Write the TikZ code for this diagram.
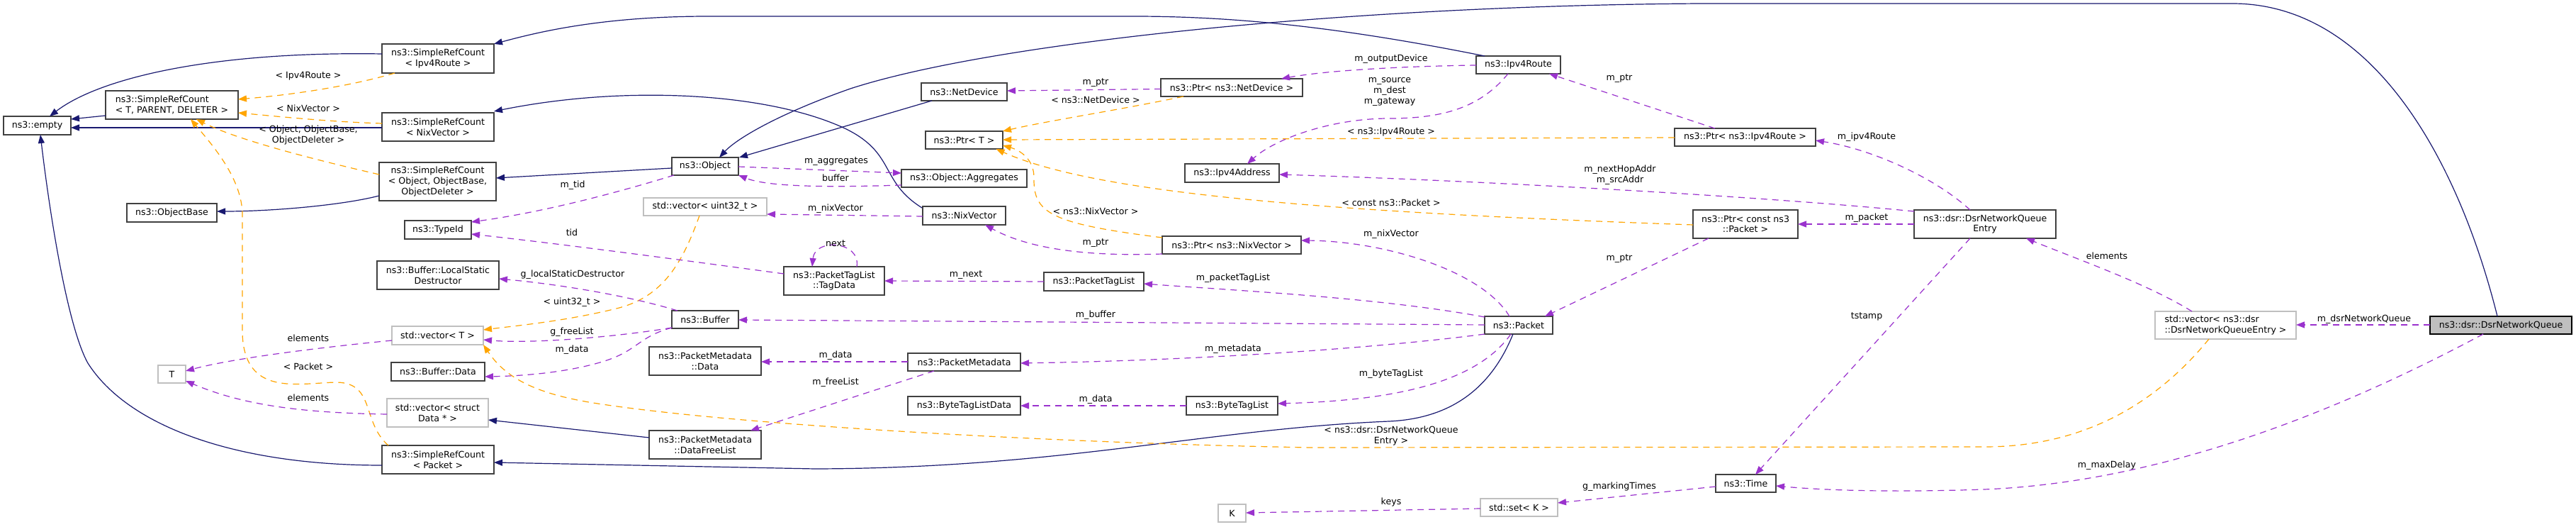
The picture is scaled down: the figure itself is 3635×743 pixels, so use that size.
\documentclass[tikz,border=0pt]{standalone}
\usepackage{fontspec}
\setmainfont{DejaVu Sans}
\usetikzlibrary{arrows.meta,calc}
\definecolor{inhcol}{HTML}{191970}
\definecolor{usecol}{HTML}{9A32CD}
\definecolor{tmplcol}{HTML}{FFA500}
\definecolor{nbord}{HTML}{404040}
\definecolor{sbord}{HTML}{BFBFBF}
\definecolor{tfill}{HTML}{BFBFBF}
\newcommand\dfont{\fontsize{12.6}{14.7}\selectfont}
\begin{document}
\begin{tikzpicture}[x=1pt,y=-1pt,
  nd/.style={draw=nbord, line width=1.3pt, fill=white, inner sep=0pt, align=center, font=\dfont},
  nstd/.style={nd, draw=sbord},
  ntgt/.style={nd, draw=black, fill=tfill},
  lbl/.style={font=\dfont, inner sep=0pt, align=center},
  tip/.style={-{Triangle[length=12pt,width=9pt]}},
  inh/.style={draw=inhcol, line width=1.2pt, tip},
  tmpl/.style={draw=tmplcol, line width=1.2pt, dash pattern=on 9pt off 7pt, tip},
  usel/.style={draw=usecol, line width=1.2pt, dash pattern=on 9pt off 7pt, tip}]
\useasboundingbox (0,0) rectangle (3635,743);
\fill[white] (0,0) rectangle (3635,743);

% ---------------- nodes ----------------
\node[nd, minimum width=95pt, minimum height=26pt] (empty) at (52.5,177) {ns3::empty};
\node[nd, minimum width=187pt, minimum height=40pt, align=left] (srcT) at (242.5,148) {ns3::SimpleRefCount\\< T, PARENT, DELETER >};
\node[nd, minimum width=158pt, minimum height=41pt] (srcIpv4) at (618,82.5) {ns3::SimpleRefCount\\< Ipv4Route >};
\node[nd, minimum width=158pt, minimum height=40pt] (srcNix) at (618,179) {ns3::SimpleRefCount\\< NixVector >};
\node[nd, minimum width=165pt, minimum height=54pt] (srcObj) at (617.5,256) {ns3::SimpleRefCount\\< Object, ObjectBase,\\ObjectDeleter >};
\node[nd, minimum width=127pt, minimum height=26pt] (objbase) at (242.5,300) {ns3::ObjectBase};
\node[nd, minimum width=94pt, minimum height=26pt] (typeid) at (618,324) {ns3::TypeId};
\node[nd, minimum width=172pt, minimum height=40pt] (lsd) at (618,388) {ns3::Buffer::LocalStatic\\Destructor};
\node[nstd, minimum width=129pt, minimum height=26pt] (vecT) at (617.5,473) {std::vector< T >};
\node[nd, minimum width=132pt, minimum height=26pt] (bufdata) at (618,524) {ns3::Buffer::Data};
\node[nstd, minimum width=143pt, minimum height=40pt] (vecData) at (617.5,582) {std::vector< struct\\Data * >};
\node[nd, minimum width=158pt, minimum height=40pt] (srcPacket) at (618,648) {ns3::SimpleRefCount\\< Packet >};
\node[nstd, minimum width=39pt, minimum height=25pt] (T) at (242.5,527.5) {T};
\node[nd, minimum width=94pt, minimum height=25pt] (object) at (995,234.5) {ns3::Object};
\node[nstd, minimum width=174pt, minimum height=25pt] (vecU32) at (995,291.5) {std::vector< uint32\_t >};
\node[nd, minimum width=142pt, minimum height=40pt] (tagdata) at (1177,396) {ns3::PacketTagList\\::TagData};
\node[nd, minimum width=94pt, minimum height=25pt] (buffer) at (995,450.5) {ns3::Buffer};
\node[nd, minimum width=158pt, minimum height=40pt] (pmdata) at (995,509) {ns3::PacketMetadata\\::Data};
\node[nd, minimum width=158pt, minimum height=40pt] (freelist) at (995,627) {ns3::PacketMetadata\\::DataFreeList};
\node[nd, minimum width=121pt, minimum height=25pt] (netdev) at (1360.5,129.5) {ns3::NetDevice};
\node[nd, minimum width=109pt, minimum height=25pt] (ptrT) at (1360.5,197.5) {ns3::Ptr< T >};
\node[nd, minimum width=177pt, minimum height=25pt] (aggr) at (1360.5,251.5) {ns3::Object::Aggregates};
\node[nd, minimum width=117pt, minimum height=26pt] (nixvec) at (1360.5,304) {ns3::NixVector};
\node[nd, minimum width=200pt, minimum height=25pt] (ptrNetDev) at (1738,123.5) {ns3::Ptr< ns3::NetDevice >};
\node[nd, minimum width=133pt, minimum height=26pt] (ipv4addr) at (1738.5,244) {ns3::Ipv4Address};
\node[nd, minimum width=196pt, minimum height=25pt] (ptrNix) at (1738,345.5) {ns3::Ptr< ns3::NixVector >};
\node[nd, minimum width=141pt, minimum height=26pt] (ptl) at (1543.5,397) {ns3::PacketTagList};
\node[nd, minimum width=159pt, minimum height=25pt] (pm) at (1360.5,510.5) {ns3::PacketMetadata};
\node[nd, minimum width=159pt, minimum height=26pt] (btld) at (1360.5,572) {ns3::ByteTagListData};
\node[nd, minimum width=129pt, minimum height=26pt] (btl) at (1738.5,572) {ns3::ByteTagList};
\node[nstd, minimum width=39pt, minimum height=25pt] (K) at (1738.5,723.5) {K};
\node[nd, minimum width=119pt, minimum height=25pt] (ipv4route) at (2142.5,91.5) {ns3::Ipv4Route};
\node[nd, minimum width=199pt, minimum height=25pt] (ptrIpv4) at (2462.5,193.5) {ns3::Ptr< ns3::Ipv4Route >};
\node[nd, minimum width=148pt, minimum height=40pt] (ptrPacket) at (2463,316) {ns3::Ptr< const ns3\\::Packet >};
\node[nd, minimum width=96pt, minimum height=25pt] (packet) at (2143,458.5) {ns3::Packet};
\node[nstd, minimum width=109pt, minimum height=25pt] (setK) at (2143.5,715.5) {std::set< K >};
\node[nd, minimum width=200pt, minimum height=40pt] (entry) at (2801,316) {ns3::dsr::DsrNetworkQueue\\Entry};
\node[nd, minimum width=85pt, minimum height=25pt] (time) at (2463.5,681.5) {ns3::Time};
\node[nstd, minimum width=199pt, minimum height=39pt, align=left] (vecEntry) at (3140.5,458.5) {std::vector< ns3::dsr\\::DsrNetworkQueueEntry >};
\node[ntgt, minimum width=200pt, minimum height=25pt] (dsrq) at (3529,458.5) {ns3::dsr::DsrNetworkQueue};

% ---------------- inheritance (blue) ----------------
\draw[inh] ($(srcT)+(-93.5,15)$) -- ($(empty)+(47.5,-9)$);
\draw[inh] ($(srcIpv4)+(-79,-6.5)$) .. controls (300,72) and (140,110) .. ($(empty)+(17.5,-13)$);
\draw[inh] ($(srcNix)+(-79,1)$) -- ($(empty)+(47.5,3)$);
\draw[inh] ($(srcPacket)+(-79,8)$) .. controls (330,656) and (180,600) .. (124,512) .. controls (95,460) and (70,300) .. ($(empty)+(4.5,13)$);
\draw[inh] ($(srcObj)+(-82.5,20)$) .. controls (480,290) and (380,298) .. ($(objbase)+(63.5,-2)$);
\draw[inh] ($(object)+(-47,2.5)$) -- ($(srcObj)+(82.5,-5)$);
\draw[inh] ($(ipv4route)+(-47.5,-12.5)$) .. controls (1900,40) and (1750,23) .. (1600,23) -- (1000,23) .. controls (850,23) and (760,45) .. ($(srcIpv4)+(79,-20.5)$);
\draw[inh] ($(dsrq)+(-5,-12.5)$) .. controls (3470,230) and (3350,5) .. (3150,5) -- (2400,5) .. controls (1900,8) and (1400,60) .. (1200,125) .. controls (1100,160) and (1040,195) .. ($(object)+(20,-12.5)$);
\draw[inh] ($(netdev)+(-45.5,12.5)$) -- ($(object)+(48,-12.5)$);
\draw[inh] ($(nixvec)+(-59.5,-11)$) .. controls (1240,255) and (1265,215) .. (1190,180) .. controls (1080,130) and (880,120) .. ($(srcNix)+(79,-22)$);
\draw[inh] ($(packet)+(-8,12.5)$) .. controls (2105,545) and (2050,590) .. (1960,594) .. controls (1700,605) and (1500,660) .. (1150,661) -- ($(srcPacket)+(79,4)$);
\draw[inh] ($(freelist)+(-79,-10)$) -- ($(vecData)+(71.5,10)$);

% ---------------- template (orange) ----------------
\draw[tmpl] ($(srcIpv4)+(-61,20.5)$) .. controls (500,120) and (420,133) .. ($(srcT)+(93.5,-8)$);
\draw[tmpl] ($(srcNix)+(-79,-5)$) .. controls (470,172) and (400,165) .. ($(srcT)+(93.5,11)$);
\draw[tmpl] ($(srcObj)+(-82.5,-10)$) .. controls (430,222) and (330,195) .. ($(srcT)+(34.5,20)$);
\draw[tmpl] ($(srcPacket)+(-70,-20)$) .. controls (510,595) and (530,540) .. (475,539) .. controls (420,540) and (345,560) .. (342,470) -- (342,300) .. controls (340,250) and (300,205) .. ($(srcT)+(26.5,20)$);
\draw[tmpl] ($(vecU32)+(-8,12.5)$) .. controls (960,380) and (930,420) .. (870,435) .. controls (800,452) and (740,458) .. ($(vecT)+(64.5,-8)$);
\draw[tmpl] ($(vecEntry)+(-23.5,19.5)$) .. controls (3050,560) and (2950,630) .. (2800,630) -- (1850,631) .. controls (1500,625) and (1050,600) .. (850,570) .. controls (760,557) and (715,535) .. ($(vecT)+(64.5,13)$);
\draw[tmpl] ($(ptrNetDev)+(-68,12.5)$) .. controls (1580,155) and (1480,170) .. ($(ptrT)+(54.5,-12.5)$);
\draw[tmpl] ($(ptrIpv4)+(-99.5,0.5)$) -- ($(ptrT)+(54.5,-0.5)$);
\draw[tmpl] ($(ptrPacket)+(-74,1)$) .. controls (1900,300) and (1550,275) .. ($(ptrT)+(45,12.5)$);
\draw[tmpl] ($(ptrNix)+(-98,-10.5)$) .. controls (1480,315) and (1458,300) .. (1459,250) .. controls (1459,225) and (1440,212) .. ($(ptrT)+(54.5,7.5)$);

% ---------------- usage (purple) ----------------
\draw[usel] ($(object)+(-44,12.5)$) .. controls (860,275) and (760,300) .. ($(typeid)+(47,-11)$);
\draw[usel] ($(tagdata)+(-71,-10)$) .. controls (950,365) and (800,345) .. ($(typeid)+(47,6)$);
\draw[usel] ($(tagdata)+(32,-20)$) .. controls (1215,340) and (1150,335) .. ($(tagdata)+(-31,-20)$);
\draw[usel] ($(object)+(47,0.5)$) -- ($(aggr)+(-88.5,-7.5)$);
\draw[usel] ($(aggr)+(-88.5,9.5)$) .. controls (1150,265) and (1080,262) .. ($(object)+(47,12.5)$);
\draw[usel] ($(nixvec)+(-58.5,1)$) -- ($(vecU32)+(87,10.5)$);
\draw[usel] ($(ptrNetDev)+(-100,2)$) -- ($(netdev)+(60.5,-1.5)$);
\draw[usel] ($(ipv4route)+(-59.5,0.5)$) .. controls (2000,93) and (1880,98) .. ($(ptrNetDev)+(70,-12.5)$);
\draw[usel] ($(ipv4route)+(-14.5,12.5)$) .. controls (2090,150) and (2040,167) .. (1960,167) .. controls (1880,167) and (1800,195) .. ($(ipv4addr)+(21.5,-13)$);
\draw[usel] ($(ptrIpv4)+(-42.5,-12.5)$) -- ($(ipv4route)+(43.5,12.5)$);
\draw[usel] ($(entry)+(-21,-20)$) .. controls (2730,250) and (2640,210) .. ($(ptrIpv4)+(99.5,4.5)$);
\draw[usel] ($(entry)+(-100,-18)$) .. controls (2500,278) and (2100,255) .. ($(ipv4addr)+(66.5,2)$);
\draw[usel] ($(entry)+(-100,0)$) -- ($(ptrPacket)+(74,0)$);
\draw[usel] ($(ptrPacket)+(-52,20)$) -- ($(packet)+(37,-12.5)$);
\draw[usel] ($(ptrNix)+(-98,12.5)$) .. controls (1530,362) and (1450,350) .. ($(nixvec)+(29.5,13)$);
\draw[usel] ($(packet)+(-13,-12.5)$) .. controls (2090,380) and (1950,340) .. ($(ptrNix)+(98,-6.5)$);
\draw[usel] ($(packet)+(-48,-11.5)$) .. controls (1950,420) and (1750,410) .. ($(ptl)+(70.5,3)$);
\draw[usel] ($(packet)+(-48,-0.5)$) -- ($(buffer)+(47,0.5)$);
\draw[usel] ($(packet)+(-48,12.5)$) .. controls (1950,490) and (1700,508) .. ($(pm)+(79.5,1.5)$);
\draw[usel] ($(packet)+(-11,12.5)$) .. controls (2080,545) and (1950,565) .. ($(btl)+(64.5,-3)$);
\draw[usel] ($(ptl)+(-70.5,0)$) -- ($(tagdata)+(71,0)$);
\draw[usel] ($(buffer)+(-39,-12.5)$) .. controls (880,415) and (780,400) .. ($(lsd)+(86,5)$);
\draw[usel] ($(buffer)+(-47,11.5)$) .. controls (870,475) and (750,485) .. ($(vecT)+(64.5,6)$);
\draw[usel] ($(buffer)+(-47,11.5)$) .. controls (900,475) and (900,495) .. (850,510) .. controls (800,525) and (740,530) .. ($(bufdata)+(66,7)$);
\draw[usel] ($(pm)+(-79.5,-0.5)$) -- ($(pmdata)+(79,1)$);
\draw[usel] ($(pm)+(-42.5,12.5)$) -- ($(freelist)+(64,-20)$);
\draw[usel] ($(btl)+(-64.5,0)$) -- ($(btld)+(79.5,0)$);
\draw[usel] ($(vecT)+(-64.5,7)$) .. controls (450,490) and (330,505) .. ($(T)+(19.5,-4.5)$);
\draw[usel] ($(vecData)+(-71.5,2)$) .. controls (420,582) and (340,570) .. ($(T)+(19.5,9.5)$);
\draw[usel] ($(vecEntry)+(-47.5,-19.5)$) .. controls (3030,400) and (2930,365) .. ($(entry)+(58,20)$);
\draw[usel] ($(entry)+(-21,20)$) -- ($(time)+(13.5,-12.5)$);
\draw[usel] ($(dsrq)+(-100,-0.5)$) -- ($(vecEntry)+(99.5,-0.5)$);
\draw[usel] ($(dsrq)+(-25,12.5)$) .. controls (3300,580) and (3050,680) .. (2800,690) .. controls (2650,695) and (2560,690) .. ($(time)+(42.5,3.5)$);
\draw[usel] ($(time)+(-42.5,4.5)$) -- ($(setK)+(54.5,-6.5)$);
\draw[usel] ($(setK)+(-54.5,1.5)$) -- ($(K)+(19.5,-0.5)$);

% ---------------- labels ----------------
\node[lbl] (l1) at (435,107) {< Ipv4Route >};
\node[lbl] (l2) at (435,153) {< NixVector >};
\node[lbl] (l3) at (435,190.5) {< Object, ObjectBase,\\ObjectDeleter >};
\node[lbl] (l4) at (435,517) {< Packet >};
\node[lbl] (l5) at (435,477) {elements};
\node[lbl] (l6) at (435,561) {elements};
\node[lbl] (l7) at (808,261) {m\_tid};
\node[lbl] (l8) at (807,328) {tid};
\node[lbl] (l9) at (1179,343) {next};
\node[lbl] (l10) at (1180,228) {m\_aggregates};
\node[lbl] (l11) at (1179,251) {buffer};
\node[lbl] (l12) at (1179,294) {m\_nixVector};
\node[lbl] (l13) at (808,387) {g\_localStaticDestructor};
\node[lbl] (l14) at (807,426) {< uint32\_t >};
\node[lbl] (l15) at (807,468) {g\_freeList};
\node[lbl] (l16) at (807,493) {m\_data};
\node[lbl] (l17) at (1179,501) {m\_data};
\node[lbl] (l18) at (1179,539) {m\_freeList};
\node[lbl] (l19) at (1546,117) {m\_ptr};
\node[lbl] (l20) at (1546,141) {< ns3::NetDevice >};
\node[lbl] (l21) at (1546,298) {< ns3::NixVector >};
\node[lbl] (l22) at (1546,343) {m\_ptr};
\node[lbl] (l23) at (1363,388) {m\_next};
\node[lbl] (l24) at (1740,392) {m\_packetTagList};
\node[lbl] (l25) at (1546,444) {m\_buffer};
\node[lbl] (l26) at (1740,492) {m\_metadata};
\node[lbl] (l27) at (1546,563) {m\_data};
\node[lbl] (l28) at (1963,83) {m\_outputDevice};
\node[lbl] (l29) at (1961,129.5) {m\_source\\m\_dest\\m\_gateway};
\node[lbl] (l30) at (1963,186) {< ns3::Ipv4Route >};
\node[lbl] (l31) at (2285,111) {m\_ptr};
\node[lbl] (l32) at (2286,246.5) {m\_nextHopAddr\\m\_srcAddr};
\node[lbl] (l33) at (1963,286) {< const ns3::Packet >};
\node[lbl] (l34) at (1963,330) {m\_nixVector};
\node[lbl] (l35) at (2285,365) {m\_ptr};
\node[lbl] (l36) at (1963,527) {m\_byteTagList};
\node[lbl] (l37) at (1963,614.5) {< ns3::dsr::DsrNetworkQueue\\Entry >};
\node[lbl] (l38) at (2285,686) {g\_markingTimes};
\node[lbl] (l39) at (1963,708) {keys};
\node[lbl] (l40) at (2634,193) {m\_ipv4Route};
\node[lbl] (l41) at (2634,307) {m\_packet};
\node[lbl] (l42) at (2973,361) {elements};
\node[lbl] (l43) at (2634,446) {tstamp};
\node[lbl] (l44) at (2973,656) {m\_maxDelay};
\node[lbl] (l45) at (3336,450) {m\_dsrNetworkQueue};
\end{tikzpicture}
\end{document}
